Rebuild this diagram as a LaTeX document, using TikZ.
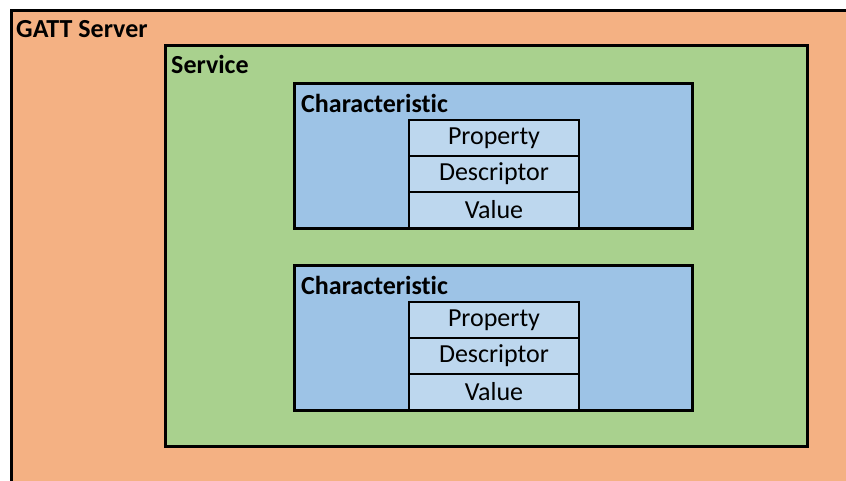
\documentclass[tikz,border=0pt]{standalone}
\usepackage{fontspec}
\setmainfont[Ligatures=NoCommon]{Carlito}
\usepackage{tikz}
\usetikzlibrary{positioning}
\definecolor{serverorange}{RGB}{244,177,131}
\definecolor{servicegreen}{RGB}{169,209,142}
\definecolor{charblue}{RGB}{157,195,230}
\definecolor{fieldblue}{RGB}{189,215,238}

\begin{document}
\begin{tikzpicture}[x=1pt,y=-1pt,
    box/.style={draw=black, line width=3pt, anchor=north west, inner sep=0pt, outer sep=0pt},
    title/.style={anchor=base west, inner sep=0pt, font=\bfseries\fontsize{26}{30}\selectfont},
    field/.style={draw=black, line width=2pt, fill=fieldblue, inner sep=0pt, outer sep=0pt,
      minimum width=170pt, minimum height=36pt, font=\fontsize{26}{30}\selectfont}]
  \useasboundingbox[fill=white] (0,0) rectangle (846,480);
  % nested containers
  \node[box, fill=serverorange, minimum width=900pt, minimum height=520pt] (server) at (11,10) {};
  \node[title] (serverlabel) at ([xshift=5pt,yshift=-27pt]server.north west) {GATT Server};
  \node[box, fill=servicegreen, minimum width=642pt, minimum height=401pt] (service) at (165,45) {};
  \node[title] (servicelabel) at ([xshift=6pt,yshift=-28pt]service.north west) {Service};
  \foreach \i/\y in {1/83,2/265} {
    \node[box, fill=charblue, minimum width=398pt, minimum height=145pt] (char\i) at (294,\y) {};
    \node[title] (charlabel\i) at ([xshift=7pt,yshift=-29pt]char\i.north west) {Characteristic};
    \node[field, anchor=north west] (prop\i) at (409,\y+37) {Property};
    \node[field, below=0pt of prop\i] (desc\i) {Descriptor};
    \node[field, below=0pt of desc\i] (value\i) {Value};
  }
\end{tikzpicture}
\end{document}
